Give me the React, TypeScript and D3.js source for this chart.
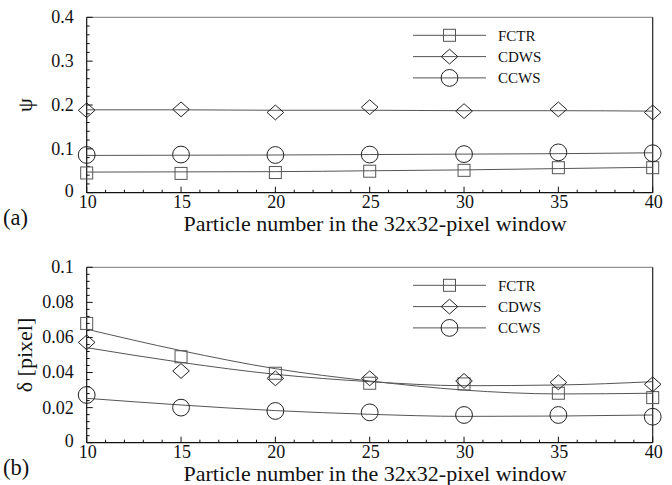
import React from "react";
import * as d3 from "d3";

const particleNumbers = [10, 15, 20, 25, 30, 35, 40];
const seriesNames = ["FCTR", "CDWS", "CCWS"];

// Panel (a): psi
const psiFCTR = [0.045, 0.044, 0.046, 0.049, 0.051, 0.057, 0.057];
const psiCDWS = [0.188, 0.19, 0.183, 0.195, 0.186, 0.19, 0.183];
const psiCCWS = [0.086, 0.087, 0.086, 0.087, 0.088, 0.092, 0.09];
const psiFitFCTR = [0.047, 0.0475, 0.048, 0.05, 0.052, 0.055, 0.058];
const psiFitCDWS = [0.189, 0.189, 0.188, 0.188, 0.187, 0.187, 0.186];
const psiFitCCWS = [0.085, 0.0855, 0.086, 0.087, 0.088, 0.089, 0.091];

// Panel (b): delta
const deltaFCTR = [0.068, 0.049, 0.0396, 0.0339, 0.0335, 0.0282, 0.0257];
const deltaCDWS = [0.0572, 0.0409, 0.0367, 0.0367, 0.0352, 0.0344, 0.0333];
const deltaCCWS = [0.0272, 0.02, 0.0181, 0.0173, 0.0158, 0.0158, 0.0148];
const deltaFitFCTR = [0.0647, 0.0525, 0.0422, 0.0352, 0.03, 0.0278, 0.0282];
const deltaFitCDWS = [0.0542, 0.0458, 0.039, 0.0348, 0.0325, 0.0329, 0.0348];
const deltaFitCCWS = [0.0253, 0.0215, 0.0183, 0.0162, 0.015, 0.0152, 0.0158];

const xTicks = [10, 15, 20, 25, 30, 35, 40];
const psiTicks = [0, 0.1, 0.2, 0.3, 0.4];
const deltaTicks = [0, 0.02, 0.04, 0.06, 0.08, 0.1];

const FONT = "'Liberation Serif', 'Times New Roman', serif";
const xTitle = "Particle number in the 32x32-pixel window";

type MarkerKind = "square" | "diamond" | "circle";
const markerKinds: MarkerKind[] = ["square", "diamond", "circle"];

function Marker({ kind, x, y }: { kind: MarkerKind; x: number; y: number }) {
  if (kind === "square")
    return <rect x={x - 6} y={y - 6} width={12} height={12} fill="none" stroke="#555" strokeWidth={1} />;
  if (kind === "diamond")
    return (
      <path
        d={`M${x - 8.3},${y}L${x},${y - 7.4}L${x + 8.3},${y}L${x},${y + 7.4}Z`}
        fill="none"
        stroke="#222"
        strokeWidth={1}
      />
    );
  return <circle cx={x} cy={y} r={8.4} fill="none" stroke="#222" strokeWidth={1} />;
}

function fmt(v: number) {
  return v === 0 ? "0" : String(+v.toFixed(2));
}

function Panel({
  top,
  bottom,
  yMax,
  yTicks,
  yMinorStep,
  values,
  fits,
  yLabel,
  panelLabel,
}: {
  top: number;
  bottom: number;
  yMax: number;
  yTicks: number[];
  yMinorStep: number;
  values: number[][];
  fits: number[][];
  yLabel: string;
  panelLabel: string;
}) {
  const left = 86.7;
  const right = 652.7;
  const x = d3.scaleLinear().domain([10, 40]).range([left, right]);
  const y = d3.scaleLinear().domain([0, yMax]).range([bottom, top]);
  const line = d3
    .line<number>()
    .x((_, i) => x(particleNumbers[i]))
    .y((d) => y(d))
    .curve(d3.curveMonotoneX);
  const xMinor = d3.range(10, 40.001, 1).filter((v) => v % 5 !== 0);
  const yMinor = d3
    .range(0, yMax + 1e-9, yMinorStep)
    .filter((v) => !yTicks.some((t) => Math.abs(t - v) < 1e-9));
  const legendY0 = top + 18;
  return (
    <g>
      {/* frame */}
      <line x1={left} x2={right} y1={top} y2={top} stroke="#777" strokeWidth={1} />
      <line x1={right} x2={right} y1={top} y2={bottom} stroke="#222" strokeWidth={1.2} />
      <line x1={left} x2={right} y1={bottom} y2={bottom} stroke="#111" strokeWidth={1.2} />
      <line x1={left} x2={left} y1={top} y2={bottom} stroke="#111" strokeWidth={1.2} />
      {/* x ticks */}
      {xTicks.map((t) => (
        <g key={"xt" + t}>
          <line x1={x(t)} x2={x(t)} y1={bottom} y2={bottom - 6} stroke="#111" />
          <text x={x(t) + 1} y={bottom + 14.8} fontSize={18} textAnchor="middle" fontFamily={FONT} fill="#111">
            {t}
          </text>
        </g>
      ))}
      {xMinor.map((t) => (
        <line key={"xm" + t} x1={x(t)} x2={x(t)} y1={bottom} y2={bottom - 3} stroke="#111" />
      ))}
      {/* y ticks */}
      {yTicks.map((t) => (
        <g key={"yt" + t}>
          <line x1={left} x2={left + 6} y1={y(t)} y2={y(t)} stroke="#111" />
          <text
            x={left - 13}
            y={y(t) - (t === 0 ? 2 : 0)}
            dy="0.33em"
            fontSize={18}
            textAnchor="end"
            fontFamily={FONT}
            fill="#111"
          >
            {fmt(t)}
          </text>
        </g>
      ))}
      {yMinor.map((t, i) => (
        <line key={"ym" + i} x1={left} x2={left + 3} y1={y(t)} y2={y(t)} stroke="#111" />
      ))}
      {/* fit lines */}
      {fits.map((f, i) => (
        <path key={"fit" + i} d={line(f) || ""} fill="none" stroke="#555" strokeWidth={1} />
      ))}
      {/* markers */}
      {values.map((vals, si) =>
        vals.map((v, i) => <Marker key={si + "-" + i} kind={markerKinds[si]} x={x(particleNumbers[i])} y={y(v)} />)
      )}
      {/* legend */}
      {seriesNames.map((name, i) => {
        const ly = legendY0 + i * 21.3;
        return (
          <g key={"lg" + name}>
            <line x1={413} x2={486} y1={ly} y2={ly} stroke="#555" strokeWidth={1} />
            <Marker kind={markerKinds[i]} x={449.5} y={ly} />
            <text x={498} y={ly} dy="0.35em" fontSize={15} fontFamily={FONT} fill="#111">
              {name}
            </text>
          </g>
        );
      })}
      {/* labels */}
      <text
        transform={`translate(24,${(top + bottom) / 2}) rotate(-90)`}
        fontSize={22}
        textAnchor="middle"
        fontFamily={FONT}
        fill="#111"
        dy="0.35em"
      >
        {yLabel}
      </text>
      <text x={3} y={bottom + 32} fontSize={22.5} fontFamily={FONT} fill="#111">
        {panelLabel}
      </text>
      <text x={375} y={bottom + 38.3} fontSize={22} textAnchor="middle" fontFamily={FONT} fill="#111">
        {xTitle}
      </text>
    </g>
  );
}

export default function App() {
  return (
    <svg
      width={672}
      height={485}
      style={{ position: "absolute", left: 0, top: 0, background: "#fff" }}
    >
      <rect width={672} height={485} fill="#fff" />
      <Panel
        top={17.3}
        bottom={192.7}
        yMax={0.4}
        yTicks={psiTicks}
        yMinorStep={0.02}
        values={[psiFCTR, psiCDWS, psiCCWS]}
        fits={[psiFitFCTR, psiFitCDWS, psiFitCCWS]}
        yLabel="ψ"
        panelLabel="(a)"
      />
      <Panel
        top={267.3}
        bottom={442.7}
        yMax={0.1}
        yTicks={deltaTicks}
        yMinorStep={0.004}
        values={[deltaFCTR, deltaCDWS, deltaCCWS]}
        fits={[deltaFitFCTR, deltaFitCDWS, deltaFitCCWS]}
        yLabel="δ [pixel]"
        panelLabel="(b)"
      />
    </svg>
  );
}
